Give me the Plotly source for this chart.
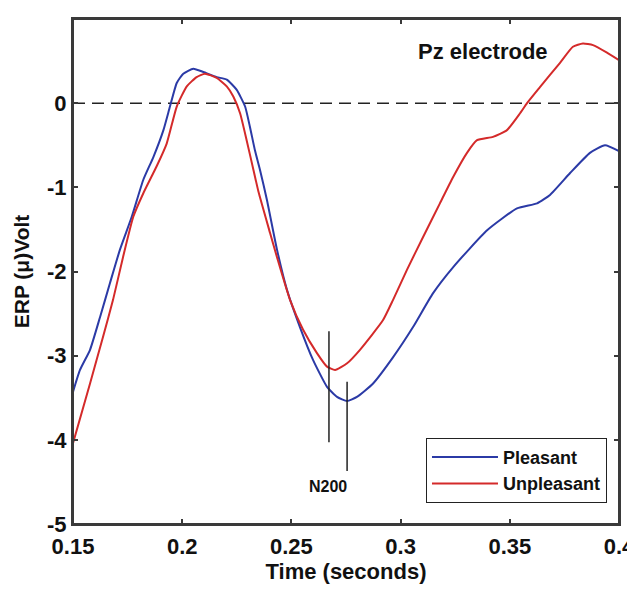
import plotly.graph_objects as go

# ---- data ----
time_pleasant = [0.1500, 0.1532, 0.1578, 0.1624, 0.1669, 0.1715, 0.1769, 0.1822, 0.1868,
                 0.1914, 0.1944, 0.1975, 0.2005, 0.2051, 0.2097, 0.2158, 0.2204, 0.2249,
                 0.2288, 0.2310, 0.2333, 0.2356, 0.2388, 0.2434, 0.2480, 0.2539, 0.2599,
                 0.2663, 0.2709, 0.2755, 0.2800, 0.2874, 0.2965, 0.3057, 0.3148, 0.3240,
                 0.3396, 0.3533, 0.3625, 0.3684, 0.3776, 0.3867, 0.3936, 0.4000]
erp_pleasant = [-3.43, -3.17, -2.93, -2.54, -2.14, -1.74, -1.35, -0.91, -0.64,
                -0.32, -0.04, 0.24, 0.35, 0.41, 0.37, 0.31, 0.28, 0.16,
                -0.04, -0.28, -0.56, -0.79, -1.15, -1.74, -2.22, -2.66, -3.05,
                -3.37, -3.49, -3.54, -3.49, -3.33, -3.02, -2.66, -2.26, -1.95,
                -1.51, -1.25, -1.19, -1.09, -0.83, -0.59, -0.50, -0.57]

time_unpleasant = [0.1500, 0.1578, 0.1637, 0.1683, 0.1729, 0.1776, 0.1822, 0.1883, 0.1929,
                   0.1975, 0.2021, 0.2066, 0.2104, 0.2158, 0.2204, 0.2234, 0.2265, 0.2295,
                   0.2326, 0.2349, 0.2402, 0.2434, 0.2494, 0.2553, 0.2617, 0.2663, 0.2700,
                   0.2755, 0.2814, 0.2919, 0.2965, 0.3029, 0.3103, 0.3180, 0.3240, 0.3304,
                   0.3350, 0.3423, 0.3487, 0.3547, 0.3579, 0.3638, 0.3730, 0.3789, 0.3835,
                   0.3881, 0.3945, 0.4000]
erp_unpleasant = [-4.04, -3.33, -2.78, -2.34, -1.83, -1.35, -1.07, -0.75, -0.48,
                  -0.04, 0.20, 0.31, 0.35, 0.30, 0.20, 0.08, -0.12, -0.44,
                  -0.79, -1.05, -1.54, -1.83, -2.34, -2.69, -2.97, -3.13, -3.17,
                  -3.09, -2.93, -2.58, -2.34, -1.98, -1.59, -1.19, -0.88, -0.59,
                  -0.44, -0.40, -0.32, -0.12, 0.00, 0.19, 0.48, 0.67, 0.71,
                  0.69, 0.60, 0.51]

series_names = ["Pleasant", "Unpleasant"]
x_ticks = [0.15, 0.2, 0.25, 0.3, 0.35, 0.4]
x_tick_labels = ["0.15", "0.2", "0.25", "0.3", "0.35", "0.4"]
y_ticks = [1, 0, -1, -2, -3, -4, -5]
y_tick_labels = ["1", "0", "-1", "-2", "-3", "-4", "-5"]

# N200 latency markers: x, y_top, y_bottom
n200_x = [0.2672, 0.2755]
n200_top = [-2.71, -3.31]
n200_bottom = [-4.03, -4.37]
n200_label = "N200"
n200_label_pos = (0.2668, -4.55)
panel_label = "Pz electrode"
panel_label_pos = (0.3377, 0.61)

FONT = "Arial, 'Liberation Sans', sans-serif"
BLUE = "#2b3aa6"
RED = "#d42a2a"
INK = "#111111"
FRAME = "#3a3a3a"

def font(size):
    return dict(family=FONT, size=size, color=INK)

def b(text):
    return "<b>" + text + "</b>"

fig = go.Figure()
fig.add_trace(go.Scatter(x=time_pleasant, y=erp_pleasant, name=b(series_names[0]),
                         mode="lines", line=dict(color=BLUE, width=2, shape="spline", smoothing=0.5)))
fig.add_trace(go.Scatter(x=time_unpleasant, y=erp_unpleasant, name=b(series_names[1]),
                         mode="lines", line=dict(color=RED, width=2, shape="spline", smoothing=0.5)))

shapes = [dict(type="line", xref="x", yref="y", x0=0.15, x1=0.4, y0=0, y1=0,
               line=dict(color="#222222", width=1.5, dash="12px,7px"), layer="below"),
          dict(type="rect", xref="paper", yref="paper", x0=0, x1=1, y0=0, y1=1,
               line=dict(color=FRAME, width=2), fillcolor="rgba(0,0,0,0)", layer="above")]
for xv, yt, yb in zip(n200_x, n200_top, n200_bottom):
    shapes.append(dict(type="line", xref="x", yref="y", x0=xv, x1=xv, y0=yb, y1=yt,
                       line=dict(color="#222222", width=1.5)))

# the page body adds an 8px offset, so margins are shifted by 8px
fig.update_layout(
    width=635, height=589,
    margin=dict(l=65, r=24, t=11, b=73, autoexpand=False),
    plot_bgcolor="white", paper_bgcolor="white",
    font=dict(family=FONT, color=INK),
    shapes=shapes,
    showlegend=True,
    legend=dict(x=0.978, y=0.042, xanchor="right", yanchor="bottom",
                bgcolor="white", bordercolor="#222222", borderwidth=1,
                font=font(18), tracegroupgap=0, itemwidth=66),
    annotations=[
        dict(x=n200_label_pos[0], y=n200_label_pos[1], xref="x", yref="y",
             text=b(n200_label), showarrow=False, font=font(16)),
        dict(x=panel_label_pos[0], y=panel_label_pos[1], xref="x", yref="y",
             text=b(panel_label), showarrow=False, font=font(22)),
    ],
)
fig.update_xaxes(range=[0.15, 0.4], tickvals=x_ticks, ticktext=[b(t) for t in x_tick_labels],
                 ticks="inside", ticklen=5, tickwidth=1.5, tickcolor=FRAME,
                 showline=True, linecolor=FRAME, linewidth=2, mirror="allticks",
                 showgrid=False, zeroline=False, automargin=False,
                 tickfont=font(22), ticklabelstandoff=2,
                 title=dict(text=b("Time (seconds)"), font=font(22), standoff=2))
fig.update_yaxes(range=[-5, 1], tickvals=y_ticks, ticktext=[b(t) for t in y_tick_labels],
                 ticks="inside", ticklen=5, tickwidth=1.5, tickcolor=FRAME,
                 showline=True, linecolor=FRAME, linewidth=2, mirror="allticks",
                 showgrid=False, zeroline=False, automargin=False,
                 tickfont=font(22),
                 title=dict(text=b("ERP (μ)Volt"), font=font(21), standoff=12))

fig.write_html("out.html")
